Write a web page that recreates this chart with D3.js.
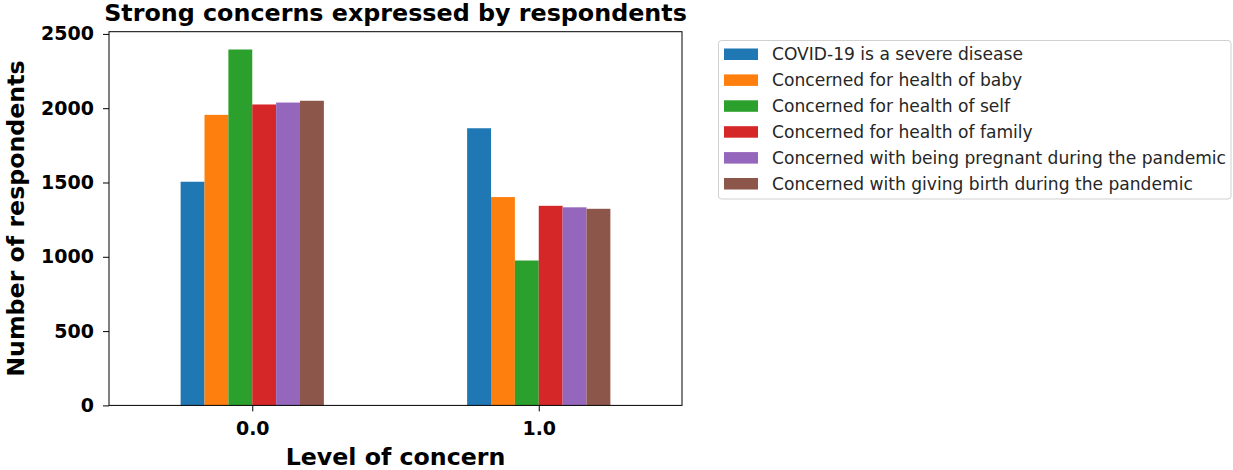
<!DOCTYPE html>
<html>
<head>
<meta charset="utf-8">
<script src="https://cdn.jsdelivr.net/npm/d3@7"></script>
<style>
  html, body { margin: 0; padding: 0; background: #fff; }
  svg { display: block; font-family: "DejaVu Sans", sans-serif; }
</style>
</head>
<body>
<svg id="chart" width="1233" height="470"></svg>
<script>
// Levels of concern on the x axis
const categories = ["0.0", "1.0"];

// Survey items, one bar series each
const seriesNames = [
  "COVID-19 is a severe disease",
  "Concerned for health of baby",
  "Concerned for health of self",
  "Concerned for health of family",
  "Concerned with being pregnant during the pandemic",
  "Concerned with giving birth during the pandemic"
];

// Respondent counts per series, ordered by level of concern
const severeDisease   = [1505, 1865];
const healthBaby      = [1955, 1402];
const healthSelf      = [2395, 975];
const healthFamily    = [2025, 1343];
const beingPregnant   = [2038, 1333];
const givingBirth     = [2050, 1323];

const yTicks = [0, 500, 1000, 1500, 2000, 2500];
const colors = ["#1f77b4", "#ff7f0e", "#2ca02c", "#d62728", "#9467bd", "#8c564b"];

const seriesValues = [severeDisease, healthBaby, healthSelf, healthFamily, beingPregnant, givingBirth];
const series = seriesNames.map((name, i) => ({ name, values: seriesValues[i], color: colors[i] }));

const svg = d3.select("#chart");
const plot = { left: 109, right: 682, top: 31.7, bottom: 405.4 };

const maxVal = d3.max(seriesValues.flat());
const y = d3.scaleLinear().domain([0, maxVal * 1.05]).range([plot.bottom, plot.top]);

// Categorical positions 0,1 on a continuous axis with half-unit padding
const x = d3.scaleLinear().domain([-0.5, categories.length - 0.5]).range([plot.left, plot.right]);
const groupWidth = 0.5;
const barW = groupWidth / series.length;

// Bars
series.forEach((s, si) => {
  svg.append("g").selectAll("rect")
    .data(s.values)
    .join("rect")
    .attr("x", (d, ci) => x(ci - groupWidth / 2 + si * barW))
    .attr("width", x(barW) - x(0))
    .attr("y", d => y(d))
    .attr("height", d => y(0) - y(d))
    .attr("fill", s.color);
});

// Axes
const yAxis = d3.axisLeft(y).tickValues(yTicks).tickSize(6).tickPadding(9).tickFormat(d3.format("d"));
const gy = svg.append("g").attr("transform", `translate(${plot.left},0)`).call(yAxis);
gy.select(".domain").remove();
gy.selectAll("text").attr("font-size", 19).attr("font-weight", "bold").attr("fill", "#000")
  .attr("font-family", "DejaVu Sans");
gy.selectAll("line").attr("stroke", "#000");

const xAxis = d3.axisBottom(x).tickValues(categories.map((c, i) => i)).tickFormat((d, i) => categories[i])
  .tickSize(6).tickPadding(10);
const gx = svg.append("g").attr("transform", `translate(0,${plot.bottom})`).call(xAxis);
gx.select(".domain").remove();
gx.selectAll("text").attr("font-size", 19).attr("font-weight", "bold").attr("fill", "#000")
  .attr("font-family", "DejaVu Sans");
gx.selectAll("line").attr("stroke", "#000");

// Frame
svg.append("rect")
  .attr("x", plot.left).attr("y", plot.top)
  .attr("width", plot.right - plot.left).attr("height", plot.bottom - plot.top)
  .attr("fill", "none").attr("stroke", "#000").attr("stroke-width", 1);

// Title and axis labels
const cx = (plot.left + plot.right) / 2;
svg.append("text").attr("x", cx).attr("y", 21).attr("text-anchor", "middle")
  .attr("font-size", 23.8).attr("font-weight", "bold").text("Strong concerns expressed by respondents");
svg.append("text").attr("x", cx).attr("y", 465).attr("text-anchor", "middle")
  .attr("font-size", 23.7).attr("font-weight", "bold").text("Level of concern");
svg.append("text")
  .attr("transform", `translate(24,${(plot.top + plot.bottom) / 2}) rotate(-90)`)
  .attr("text-anchor", "middle")
  .attr("font-size", 23.7).attr("font-weight", "bold").text("Number of respondents");

// Legend
const legend = svg.append("g");
legend.append("rect")
  .attr("x", 718.5).attr("y", 40.5).attr("width", 512.5).attr("height", 158.5)
  .attr("rx", 3).attr("fill", "#fff").attr("stroke", "#d0d0d0").attr("stroke-width", 1);
const rowH = 25.9;
const items = legend.selectAll("g.item").data(series).join("g")
  .attr("class", "item")
  .attr("transform", (d, i) => `translate(0,${54 + i * rowH})`);
items.append("rect").attr("x", 724).attr("y", -5.5).attr("width", 34).attr("height", 11.5)
  .attr("fill", d => d.color);
items.append("text").attr("x", 772).attr("y", 6).attr("font-size", 17.1).attr("fill", "#262626")
  .text(d => d.name);
</script>
</body>
</html>
